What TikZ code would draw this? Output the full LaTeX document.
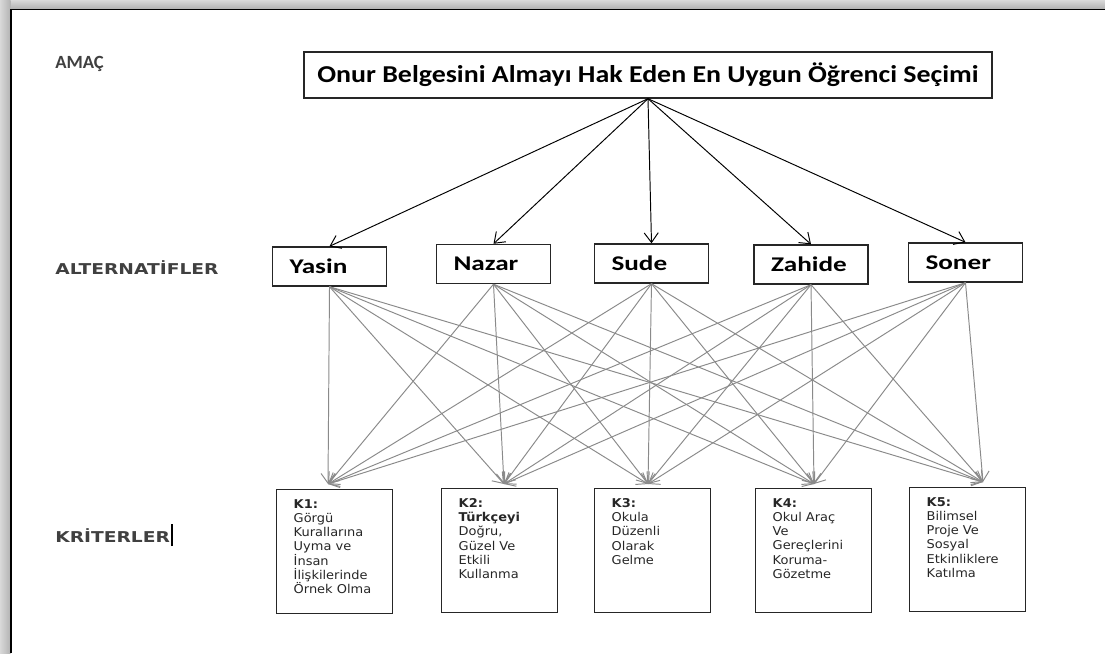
\documentclass[tikz,border=0pt]{standalone}
\usepackage{fontspec}
\setmainfont{Carlito}
\newfontfamily\basfont[FakeStretch=1.15]{Carlito}
\newfontfamily\adfont[FakeStretch=1.3]{Carlito}
\newfontfamily\katfont[FakeStretch=1.25]{DejaVu Sans}
\newfontfamily\krfont[FakeStretch=1.07]{DejaVu Sans}
\usetikzlibrary{arrows.meta}
\definecolor{cizgi}{RGB}{138,138,138}
\definecolor{yazi}{RGB}{64,64,64}

\begin{document}
\begin{tikzpicture}[x=0.02cm,y=-0.02cm,
  >={Straight Barb[length=5.5pt,width=8pt]},
  hedef/.style={draw=black!85,line width=0.8pt,minimum width=13.76cm,minimum height=0.92cm,inner sep=0pt,font=\basfont\bfseries\fontsize{13.8}{15}\selectfont},
  ogrenci/.style={draw=black!85,line width=0.8pt,text width=1.6cm,inner xsep=0.34cm,minimum height=0.78cm,align=left,font=\adfont\bfseries\fontsize{11.9}{14}\selectfont},
  kriter/.style={draw=black!85,line width=0.8pt,anchor=north west,inner xsep=0.34cm,inner ysep=0.2cm,text=black!85,font=\krfont\fontsize{6.9}{8.05}\selectfont},
  katman/.style={anchor=base west,inner sep=0pt,text=yazi},
  ust ok/.style={->,line width=0.55pt},
  alt ok/.style={->,draw=cizgi,line width=0.55pt}]
\useasboundingbox (0,0) rectangle (1105,653);
% cerceve
\shade[top color=gray!30,bottom color=gray!60] (0,0) rectangle (1105,8.5);
\shade[left color=gray!30,right color=gray!60] (0,0) rectangle (10.5,653);
\draw[line width=0.9pt] (11,653) -- (11,9.5) -- (1105,9.5);

% katmanlar
\node[katman,font=\bfseries\fontsize{10.6}{12}\selectfont] (amac) at (55,68) {AMAÇ};
\node[katman,font=\katfont\bfseries\fontsize{8.5}{10}\selectfont] (alternatif) at (55,274.5) {ALTERNATİFLER};
\node[katman,font=\katfont\bfseries\fontsize{8.5}{10}\selectfont] (kriterler) at (55,542) {KRİTERLER\hspace{0.6pt}{\color{black}\rule[-2.3pt]{1pt}{12.5pt}}};

% amac
\node[hedef] (goal) at (648,75) {Onur Belgesini Almayı Hak Eden En Uygun Öğrenci Seçimi};

% alternatifler
\node[ogrenci] (yasin) at (329.5,266.5) {Yasin};
\node[ogrenci] (nazar) at (493.5,264) {Nazar};
\node[ogrenci] (sude) at (651.5,263.5) {Sude};
\node[ogrenci] (zahide) at (811,264.5) {Zahide};
\node[ogrenci] (soner) at (965.5,262.5) {Soner};

% kriterler
\node[kriter] (k1) at (276,489) {\parbox[t][2.08cm][t]{1.64cm}{\raggedright\textbf{K1:}\\Görgü\\Kurallarına\\Uyma ve\\İnsan\\İlişkilerinde\\Örnek Olma}};
\node[kriter] (k2) at (441,488) {\parbox[t][2.08cm][t]{1.64cm}{\raggedright\textbf{K2:}\\\textbf{Türkçeyi}\\Doğru,\\Güzel Ve\\Etkili\\Kullanma}};
\node[kriter] (k3) at (594,488) {\parbox[t][2.08cm][t]{1.64cm}{\raggedright\textbf{K3:}\\Okula\\Düzenli\\Olarak\\Gelme}};
\node[kriter] (k4) at (755,488) {\parbox[t][2.08cm][t]{1.64cm}{\raggedright\textbf{K4:}\\Okul Araç\\Ve\\Gereçlerini\\Koruma-\\Gözetme}};
\node[kriter] (k5) at (909,487) {\parbox[t][2.08cm][t]{1.64cm}{\raggedright\textbf{K5:}\\Bilimsel\\Proje Ve\\Sosyal\\Etkinliklere\\Katılma}};

\coordinate (k1u) at (328,484);
\coordinate (k2u) at (504,484);
\coordinate (k3u) at (648,484);
\coordinate (k4u) at (814,484);
\coordinate (k5u) at (983,482);

\foreach \a in {yasin,nazar,sude,zahide,soner}
  \draw[ust ok] (goal.south) -- (\a.north);
\foreach \a in {yasin,nazar,sude,zahide,soner}
  \foreach \k in {1,...,5}
    \draw[alt ok] (\a.south) -- (k\k u);
\end{tikzpicture}
\end{document}
